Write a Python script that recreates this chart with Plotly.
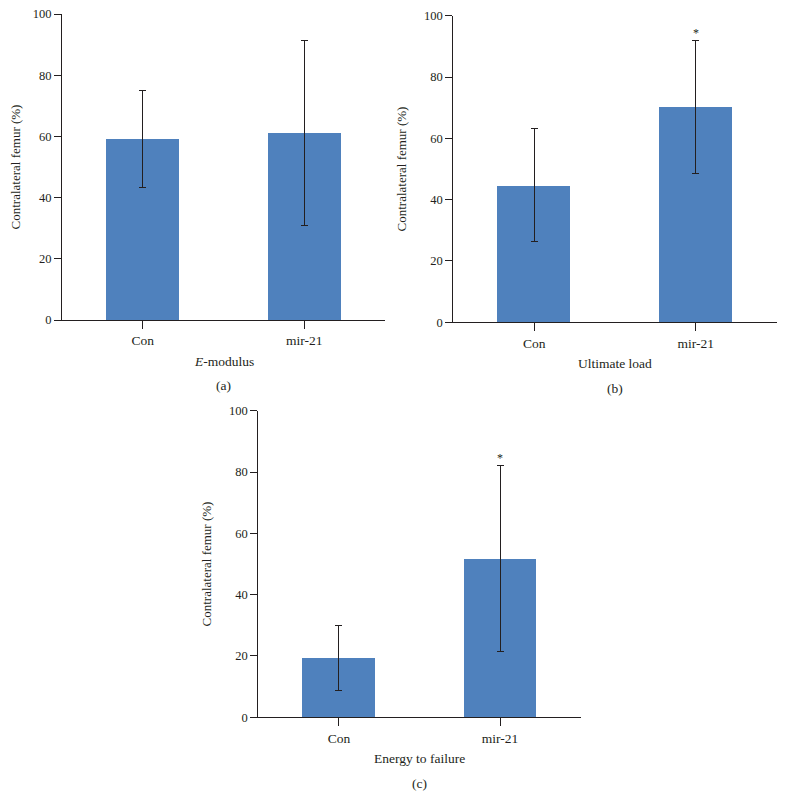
import plotly.graph_objects as go

categories = ["Con", "mir-21"]

emod_values = [59.2, 61.2]
emod_err = [15.8, 30.2]

load_values = [44.7, 70.2]
load_err = [18.4, 21.7]

energy_values = [19.4, 51.7]
energy_err = [10.5, 30.4]

panel_titles = ["<i>E</i>-modulus", "Ultimate load", "Energy to failure"]
panel_letters = ["(a)", "(b)", "(c)"]
significance = [["", ""], ["", "*"], ["", "*"]]

y_ticks = [0, 20, 40, 60, 80, 100]
y_title = "Contralateral femur (%)"

BAR = "#4F81BD"
INK = "#231f20"
FONT = "Liberation Serif"
OFF = 8  # page body margin in the browser
W, H = 785 - OFF, 795 - OFF

# panel geometry in page pixels: (left, right, top, bottom)
geom = [
    (62, 385, 14, 320),
    (453.3, 776.7, 15.7, 322.3),
    (258.3, 580.7, 410.7, 717.3),
]

fig = go.Figure()
series = [(emod_values, emod_err), (load_values, load_err), (energy_values, energy_err)]

for i, ((vals, errs), (l, r, t, b)) in enumerate(zip(series, geom)):
    l, r, t, b = l - OFF, r - OFF, t - OFF, b - OFF
    n = "" if i == 0 else str(i + 1)
    fig.add_trace(go.Bar(
        x=categories, y=vals, width=0.45,
        marker=dict(color=BAR, line=dict(width=0)),
        error_y=dict(type="data", array=errs, visible=True,
                     color=INK, thickness=1, width=3.5),
        xaxis="x" + n, yaxis="y" + n, showlegend=False,
    ))
    xd = [l / W, r / W]
    yd = [1 - b / H, 1 - t / H]
    fig.layout["xaxis" + n] = dict(
        domain=xd, anchor="y" + n, type="category", range=[-0.5, 1.5],
        showline=True, linecolor=INK, linewidth=1, automargin=False,
        ticks="outside", ticklen=8, tickcolor=INK, tickwidth=1,
        tickfont=dict(family=FONT, size=13.5, color=INK),
        showgrid=False, zeroline=False,
    )
    fig.layout["yaxis" + n] = dict(
        domain=yd, anchor="x" + n, range=[0, 100],
        tickvals=y_ticks, automargin=False, ticklabeloverflow="allow",
        showline=True, linecolor=INK, linewidth=1,
        ticks="outside", ticklen=7, tickcolor=INK, tickwidth=1,
        tickfont=dict(family=FONT, size=12.5, color=INK),
        showgrid=False, zeroline=False,
        title=dict(text=y_title, font=dict(family=FONT, size=13, color=INK), standoff=14),
    )
    # x-axis title
    fig.add_annotation(
        text=panel_titles[i], x=0.5, xref="x" + n + " domain",
        y=1 - (b + 41) / H, yref="paper", yanchor="middle",
        showarrow=False, font=dict(family=FONT, size=13.5, color=INK),
    )
    # panel letter
    fig.add_annotation(
        text=panel_letters[i], x=0.5, xref="x" + n + " domain",
        y=1 - (b + 66) / H, yref="paper", yanchor="middle",
        showarrow=False, font=dict(family=FONT, size=13.5, color=INK),
    )
    for c, v, e, s in zip(categories, vals, errs, significance[i]):
        if s:
            fig.add_annotation(
                text=s, x=c, xref="x" + n, y=v + e, yref="y" + n,
                yanchor="bottom", yshift=-1, showarrow=False,
                font=dict(family=FONT, size=12, color=INK),
            )

fig.update_layout(
    width=W, height=H,
    margin=dict(l=0, r=0, t=0, b=0, autoexpand=False),
    paper_bgcolor="white", plot_bgcolor="white",
    font=dict(family=FONT, color=INK),
    bargap=0,
)

fig.write_html("out.html")
